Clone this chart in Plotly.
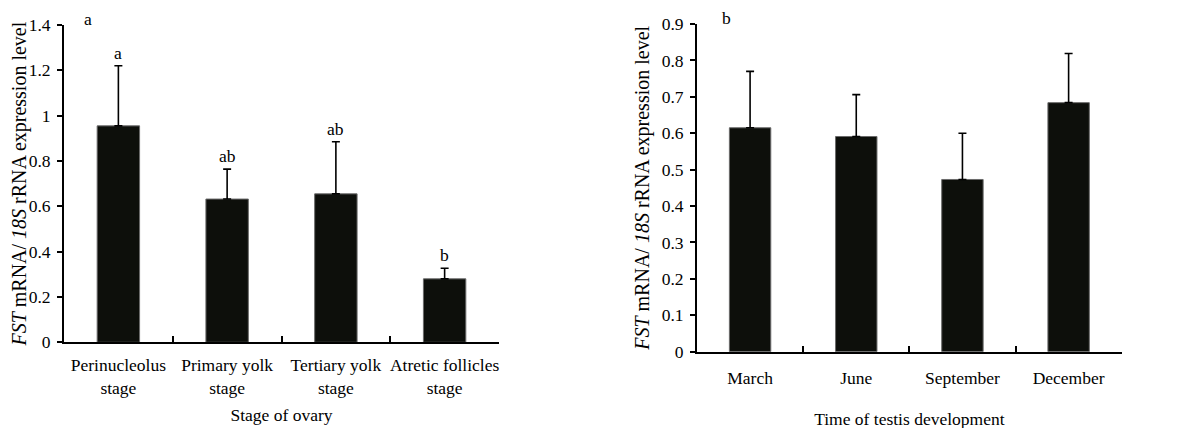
import plotly.graph_objects as go

# ---- data ----
ovary_stages = ["Perinucleolus<br>stage", "Primary yolk<br>stage", "Tertiary yolk<br>stage", "Atretic follicles<br>stage"]
ovary_values = [0.955, 0.632, 0.655, 0.280]
ovary_errors = [0.265, 0.132, 0.230, 0.047]
ovary_letters = ["a", "ab", "ab", "b"]

testis_months = ["March", "June", "September", "December"]
testis_values = [0.615, 0.591, 0.473, 0.684]
testis_errors = [0.155, 0.115, 0.127, 0.135]

FONT = "Liberation Serif, Times New Roman, serif"
BAR_COLOR = "#0d0f0b"
YTITLE = "<i>FST</i> mRNA/ <i>18S</i> rRNA expression level"
FS = 17.5

W, H = 1192, 428
OFF = 8  # page body margin


def px(x):
    return (x - OFF) / W


def py(y):
    return 1 - (y - OFF) / H


fig = go.Figure()

fig.add_trace(go.Bar(
    x=ovary_stages, y=ovary_values, width=0.39,
    marker=dict(color=BAR_COLOR, line=dict(color="#6a6a6a", width=1)),
    error_y=dict(type="data", array=ovary_errors, arrayminus=[0]*4,
                 color="black", thickness=1.6, width=4),
    xaxis="x", yaxis="y", showlegend=False))

fig.add_trace(go.Bar(
    x=testis_months, y=testis_values, width=0.39,
    marker=dict(color=BAR_COLOR, line=dict(color="#6a6a6a", width=1)),
    error_y=dict(type="data", array=testis_errors, arrayminus=[0]*4,
                 color="black", thickness=1.6, width=4),
    xaxis="x2", yaxis="y2", showlegend=False))

annotations = []
for cat, v, e, lt in zip(ovary_stages, ovary_values, ovary_errors, ovary_letters):
    annotations.append(dict(x=cat, y=v + e, xref="x", yref="y", text=lt,
                            showarrow=False, xanchor="center", yanchor="bottom", yshift=1,
                            font=dict(family=FONT, size=FS, color="black")))
annotations.append(dict(x=px(88), y=py(19), xref="paper", yref="paper", text="a",
                        showarrow=False, xanchor="center", yanchor="middle",
                        font=dict(family=FONT, size=FS, color="black")))
annotations.append(dict(x=px(726), y=py(18), xref="paper", yref="paper", text="b",
                        showarrow=False, xanchor="center", yanchor="middle",
                        font=dict(family=FONT, size=FS, color="black")))

axis_common = dict(showline=True, linecolor="black", linewidth=2, showgrid=False,
                   zeroline=False, automargin=False,
                   tickfont=dict(family=FONT, size=FS, color="black"))
ytitle_font = dict(family=FONT, size=20, color="black")
xtitle_font = dict(family=FONT, size=FS, color="black")

fig.update_layout(
    width=W, height=H,
    margin=dict(l=0, r=0, t=0, b=0),
    paper_bgcolor="white", plot_bgcolor="white",
    font=dict(family=FONT, size=FS, color="black"),
    annotations=annotations,
    xaxis=dict(domain=[px(64), px(499)], anchor="y", type="category", tickangle=0,
               ticks="inside", tickson="boundaries", ticklen=6, tickwidth=1.5, tickcolor="black",
               ticklabelstandoff=6,
               title=dict(text="Stage of ovary", standoff=12, font=xtitle_font),
               **axis_common),
    yaxis=dict(domain=[py(342.3), py(25)], anchor="x", range=[0, 1.4],
               tickvals=[0, 0.2, 0.4, 0.6, 0.8, 1, 1.2, 1.4],
               ticktext=["0", "0.2", "0.4", "0.6", "0.8", "1", "1.2", "1.4"],
               ticks="outside", ticklen=5, tickwidth=1.5, tickcolor="black",
               ticklabelstandoff=3,
               title=dict(text=YTITLE, standoff=0, font=ytitle_font),
               **axis_common),
    xaxis2=dict(domain=[px(697), px(1121.7)], anchor="y2", type="category", tickangle=0,
                ticks="inside", tickson="boundaries", ticklen=6, tickwidth=1.5, tickcolor="black",
                ticklabelstandoff=9,
                title=dict(text="Time of testis development", standoff=26, font=xtitle_font),
                **axis_common),
    yaxis2=dict(domain=[py(351.7), py(24)], anchor="x2", range=[0, 0.9],
                tickvals=[0, 0.1, 0.2, 0.3, 0.4, 0.5, 0.6, 0.7, 0.8, 0.9],
                ticktext=["0", "0.1", "0.2", "0.3", "0.4", "0.5", "0.6", "0.7", "0.8", "0.9"],
                ticks="outside", ticklen=5, tickwidth=1.5, tickcolor="black",
                ticklabelstandoff=3,
                title=dict(text=YTITLE, standoff=7, font=ytitle_font),
                **axis_common),
)

fig.write_html("out.html")
